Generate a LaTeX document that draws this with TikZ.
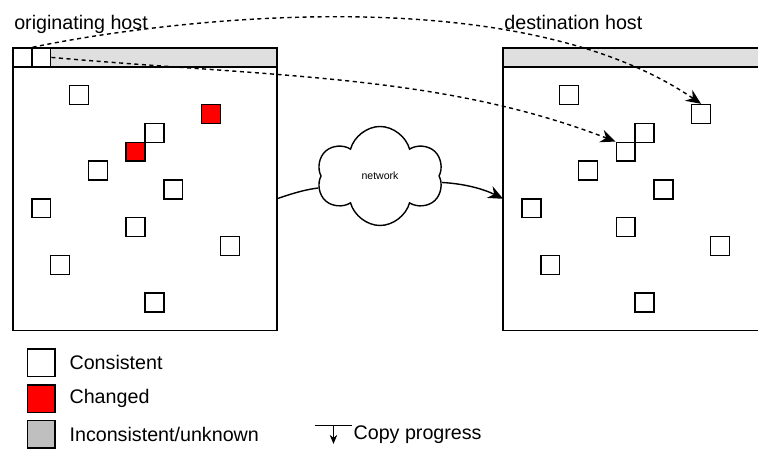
\documentclass[tikz,border=0pt]{standalone}
\usepackage{fontspec}
\setmainfont{Liberation Sans}
\usepackage{tikz}
\usetikzlibrary{arrows.meta}
\usetikzlibrary{positioning}
\usetikzlibrary{shapes.symbols}
\tikzset{>={Stealth[length=3mm,width=2.6mm]}}

\begin{document}
\begin{tikzpicture}[x=0.377cm, y=-0.377cm]
        \tikzstyle{every node}=[font=\fontsize{11.2}{13}\selectfont]
        \tikzstyle{blk}=[rectangle, draw, thick, inner sep=0, minimum size=0.377cm]
        \tikzstyle{legblk}=[rectangle, draw, thick, inner sep=0, minimum size=0.55cm]
        \tikzstyle{legtxt}=[inner sep=0]
        \tikzstyle{copyline}=[->, thick, dash pattern=on 2.3pt off 2pt]
        \useasboundingbox (-0.69,-2.546) rectangle (39.52,21.49);
        \clip (-0.69,-2.546) rectangle (39.52,21.49);

        % hosts
        \draw[thick] (0,0) rectangle (14,15);
        \filldraw[thick, fill=gray!25] (0,0) rectangle (14,1);
        \draw[thick] (26,0) rectangle (41,15);
        \filldraw[thick, fill=gray!25] (26,0) rectangle (41,1);
        \node[anchor=base west, inner sep=0] (otitle) at (0.05,-1) {originating host};
        \node[anchor=base west, inner sep=0] (dtitle) at (26.05,-1) {destination host};

        % progress cells
        \node[blk, fill=white] (h0) at (0.5,0.5) {};
        \node[blk, fill=white] (h1) at (1.5,0.5) {};

        % blocks
        \foreach \c/\r in {3/2, 7/4, 4/6, 8/7, 1/8, 6/9, 11/10, 2/11, 7/13}
                \node[blk] (o\c-\r) at (\c+0.5,\r+0.5) {};
        \foreach \c/\r in {10/3, 6/5}
                \node[blk, fill=red] (o\c-\r) at (\c+0.5,\r+0.5) {};
        \foreach \c/\r in {3/2, 10/3, 7/4, 6/5, 4/6, 8/7, 1/8, 6/9, 11/10, 2/11, 7/13}
                \node[blk] (d\c-\r) at (\c+26.5,\r+0.5) {};

        % network
        \node[cloud, draw, thick, cloud puffs=6, cloud puff arc=150, cloud ignores aspect,
                minimum width=2.52cm, minimum height=1.98cm, inner sep=0,
                font=\fontsize{6}{7}\selectfont] (net) at (19.47,6.79) {network};
        \coordinate (netin) at (14,8);
        \coordinate (netout) at (26,8);
        \draw[thick] (netin) .. controls (15,7.65) and (15.6,7.5) .. (net.191);
        \draw[thick, ->] (net.354) .. controls (24,7.2) and (25,7.5) .. (netout);

        % copying
        \draw[copyline] (h0.north east) .. controls (6,-1.1) and (26,-4.2) .. (d10-3.north);
        \draw[copyline] (h1.east) .. controls (14,1.55) and (22.7,1.4) .. (d6-5.north west);

        % legend
        \node[legblk] (lc) at (1.5,16.7) {};
        \node[legblk, fill=red] (lch) at (1.5,18.6) {};
        \node[legblk, fill=gray!50] (li) at (1.5,20.5) {};
        \node[legtxt, right=0.27cm of lc] (lctxt) {Consistent};
        \node[legtxt, right=0.27cm of lch] (lchtxt) {Changed};
        \node[legtxt, right=0.27cm of li] (litxt) {Inconsistent/unknown};

        \coordinate (cpl) at (16,20);
        \coordinate (cpr) at (18,20);
        \coordinate (cpt) at (17,20);
        \coordinate (cpb) at (17,21);
        \draw (cpl) -- (cpr);
        \draw[-{Stealth[length=1.8mm,width=1.5mm]}] (cpt) -- (cpb);
        \node[legtxt, anchor=west] (cptxt) at (18.05,20.5) {Copy progress};
\end{tikzpicture}
\end{document}
